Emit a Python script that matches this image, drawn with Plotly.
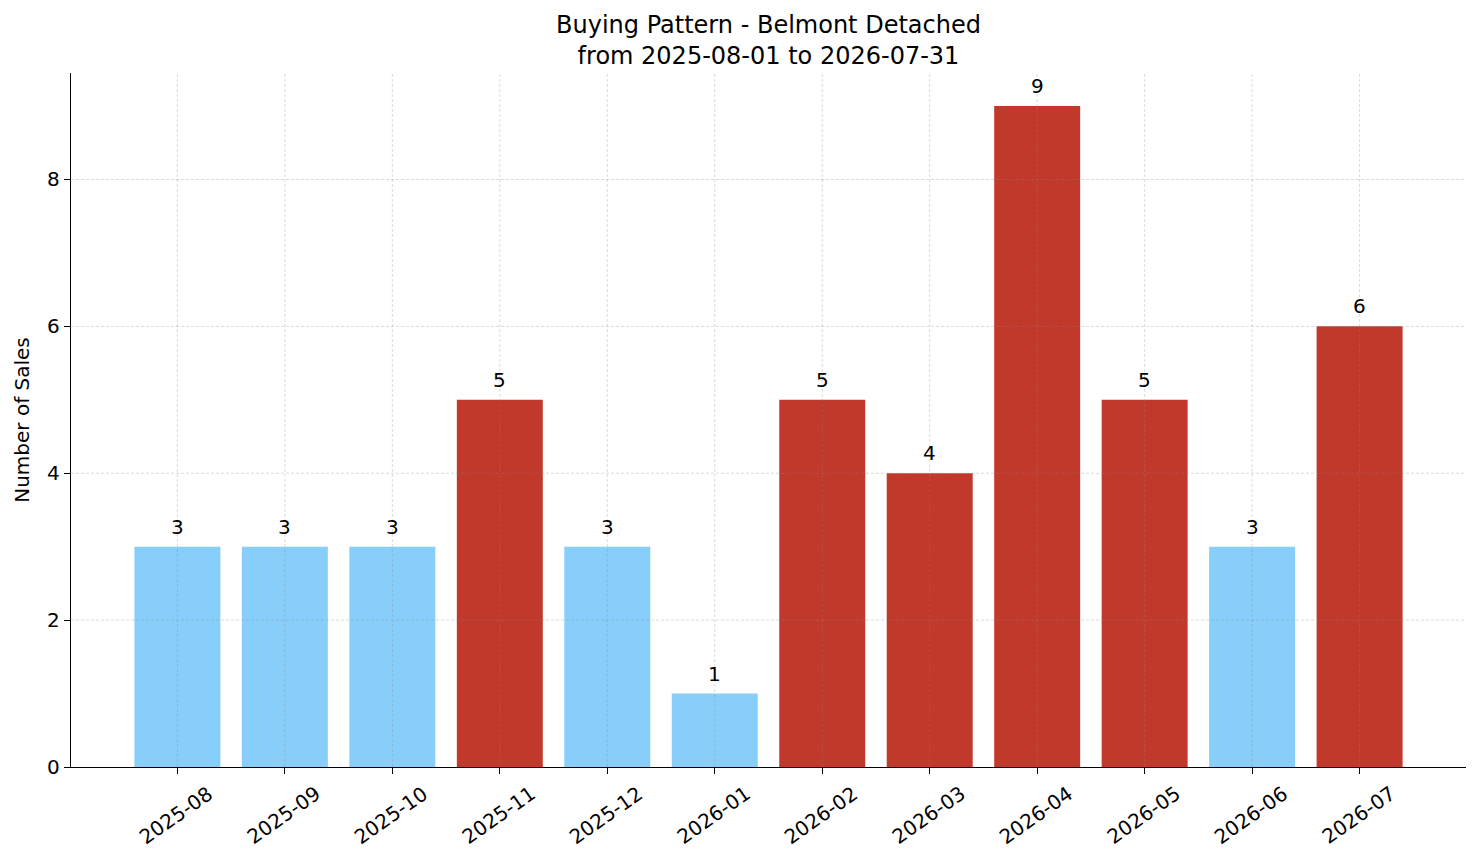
import plotly.graph_objects as go

months = ["2025-08", "2025-09", "2025-10", "2025-11", "2025-12", "2026-01",
          "2026-02", "2026-03", "2026-04", "2026-05", "2026-06", "2026-07"]
sales = [3, 3, 3, 5, 3, 1, 5, 4, 9, 5, 3, 6]
y_ticks = [0, 2, 4, 6, 8]
high_color = "#C0392B"
low_color = "#87CEFA"
threshold = 4

colors = [high_color if v >= threshold else low_color for v in sales]
xpos = list(range(len(months)))
FONT = "DejaVu Sans"
W, H = 1473, 855

fig = go.Figure()
fig.add_trace(go.Bar(
    x=xpos, y=sales, width=0.8, marker=dict(color=colors, line=dict(width=0)),
    showlegend=False, hoverinfo="x+y",
))

grid_style = dict(color="rgba(140,140,140,0.4)", width=0.8, dash="3px,2px")
shapes = []
for xv in xpos:
    shapes.append(dict(type="line", xref="x", yref="paper", x0=xv, x1=xv, y0=0, y1=1,
                       line=grid_style, layer="above"))
for yv in y_ticks[1:]:
    shapes.append(dict(type="line", xref="paper", yref="y", x0=0, x1=1, y0=yv, y1=yv,
                       line=grid_style, layer="above"))

annotations = []
for xv, v in zip(xpos, sales):
    annotations.append(dict(x=xv, y=v, xref="x", yref="y", text=str(v), showarrow=False,
                            xanchor="center", yanchor="bottom", yshift=6,
                            font=dict(size=20, color="black", family=FONT)))
for xv, m in zip(xpos, months):
    annotations.append(dict(x=xv, y=0, xref="x", yref="y", text=m, showarrow=False,
                            xanchor="center", yanchor="middle", yshift=-48, xshift=-1,
                            textangle=-35,
                            font=dict(size=20, color="black", family=FONT)))

fig.update_layout(
    width=W, height=H,
    margin=dict(l=63, r=15, t=65, b=96),
    paper_bgcolor="white", plot_bgcolor="white",
    font=dict(family=FONT, size=20, color="black"),
    title=dict(text="Buying Pattern - Belmont Detached<br>from 2025-08-01 to 2026-07-31",
               x=(63 + (W - 15)) / 2 / W, xanchor="center",
               yref="container", y=1 - 24.5 / H, yanchor="bottom",
               font=dict(size=24)),
    shapes=shapes, annotations=annotations,
)
fig.update_xaxes(
    range=[-0.99, 11.99], tickmode="array", tickvals=xpos, ticktext=[""] * len(xpos),
    showline=True, linecolor="black", linewidth=1.3,
    ticks="outside", ticklen=6, tickcolor="black", tickwidth=1.3,
    showgrid=False, zeroline=False,
)
fig.update_yaxes(
    range=[0, 9.45], tickvals=y_ticks, showline=True, linecolor="black", linewidth=1.3,
    ticks="outside", ticklen=6, tickcolor="black", tickwidth=1.3,
    showgrid=False, zeroline=False, tickfont=dict(size=20),
    title=dict(text="Number of Sales", font=dict(size=20), standoff=12),
)
fig.write_html("out.html")
